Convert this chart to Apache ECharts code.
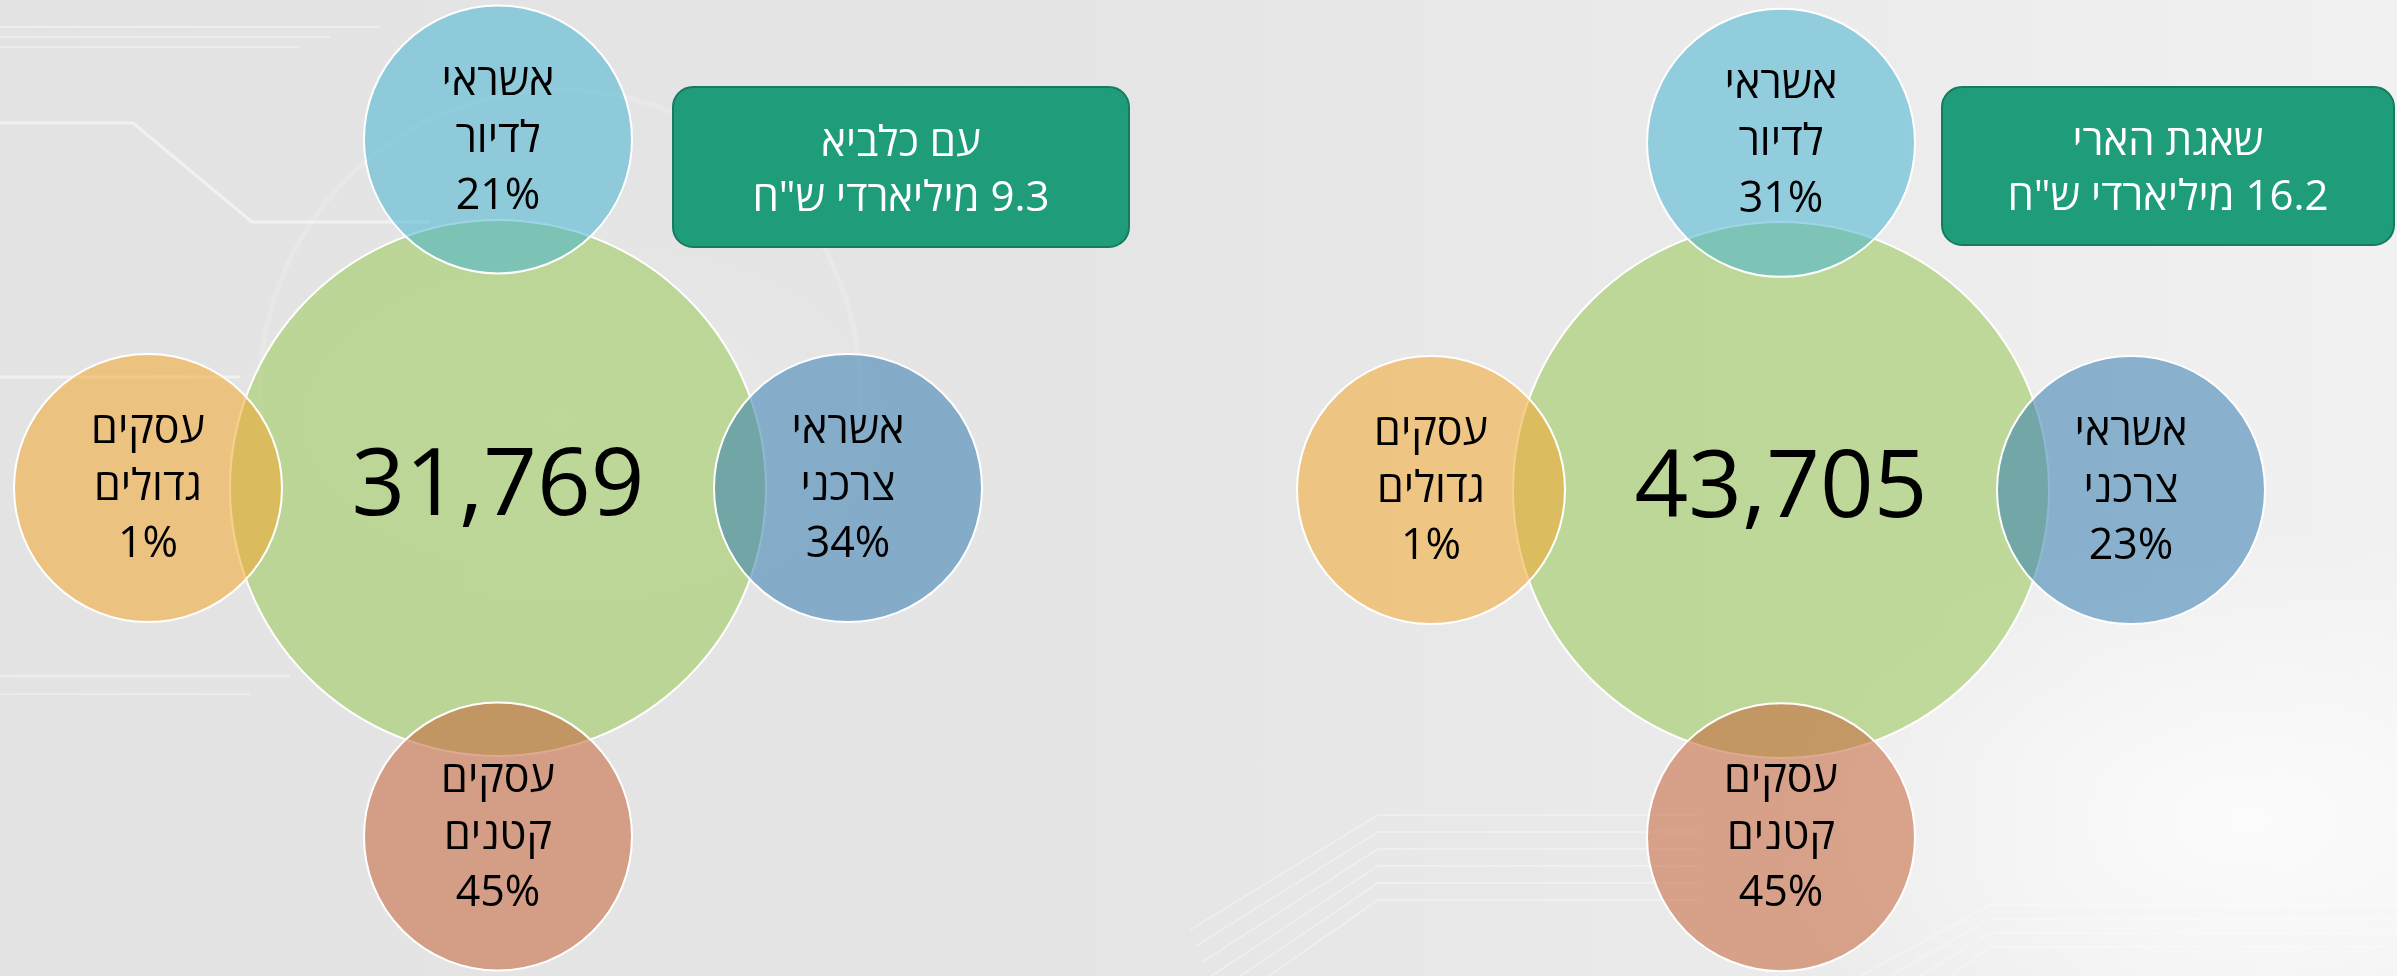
<!DOCTYPE html>
<html lang="he">
<head>
<meta charset="utf-8">
<title>התפלגות האשראי - עם כלביא / שאגת הארי</title>
<script src="https://cdn.jsdelivr.net/npm/echarts@6/dist/echarts.min.js"></script>
<style>
    html, body {
        margin: 0;
        padding: 0;
        width: 2397px;
        height: 976px;
        overflow: hidden;
    }
    body {
        background:
            radial-gradient(ellipse 700px 420px at 2250px 820px, rgba(255,255,255,0.8), rgba(255,255,255,0) 70%),
            radial-gradient(ellipse 500px 300px at 560px 420px, rgba(255,255,255,0.25), rgba(255,255,255,0) 70%),
            linear-gradient(to right, #e3e3e3 0%, #e5e5e5 45%, #eaeaea 70%, #f1f1f1 100%);
    }
    #main {
        width: 2397px;
        height: 976px;
    }
    /* טקסט עברי - כיוון מימין לשמאל */
    #main canvas {
        direction: rtl;
    }
</style>
</head>
<body>
<div id="main"></div>
<script>
// נתונים
const scenarioNames = ['עם כלביא', 'שאגת הארי'];
const amountsBn = [9.3, 16.2];
const totalLoans = [31769, 43705];
const segmentNames = ['אשראי\nלדיור', 'אשראי\nצרכני', 'עסקים\nקטנים', 'עסקים\nגדולים'];
const sharesKalavi = [21, 34, 45, 1];
const sharesShaagat = [31, 23, 45, 1];

// צבעים (שקיפות כמו במקור)
const centerColor = 'rgba(166,206,112,0.68)';
const segmentColors = [
    'rgba(72,181,210,0.55)',   // אשראי לדיור
    'rgba(53,123,177,0.55)',   // אשראי צרכני
    'rgba(199,99,57,0.55)',    // עסקים קטנים
    'rgba(244,168,50,0.55)'    // עסקים גדולים
];
const FONT = '"Open Sans", "Liberation Sans", "DejaVu Sans", sans-serif';

// פריסה של שני הלוחות
const panels = [
    { shares: sharesKalavi, grid: { left: 8, top: 0, width: 980, height: 978 },
      box: { x: 673, y: 87, width: 456, height: 160 } },
    { shares: sharesShaagat, grid: { left: 1291, top: 4, width: 980, height: 978 },
      box: { x: 1942, y: 87, width: 452, height: 158 } }
];

const chart = echarts.init(document.getElementById('main'), null, { renderer: 'canvas' });

const grids = [];
const xAxes = [];
const yAxes = [];
const series = [];

panels.forEach(function (panel, p) {
    grids.push(panel.grid);
    xAxes.push({ type: 'value', gridIndex: p, min: -1.4, max: 1.4, show: false });
    yAxes.push({ type: 'value', gridIndex: p, min: -1.4, max: 1.4, show: false });

    // עיגול מרכזי - סך הכל
    series.push({
        type: 'scatter',
        xAxisIndex: p,
        yAxisIndex: p,
        symbol: 'circle',
        symbolSize: 536,
        silent: true,
        z: 2,
        itemStyle: { color: centerColor, borderColor: '#ffffff', borderWidth: 2, opacity: 1 },
        label: {
            show: true,
            position: 'inside',
            color: '#000',
            fontFamily: FONT,
            fontSize: 94,
            formatter: function (params) {
                return params.data.total.toLocaleString('en-US');
            }
        },
        data: [{ value: [0, 0], total: totalLoans[p] }]
    });

    // עיגולים מסביב - פילוח לפי סוג אשראי (למעלה, ימין, למטה, שמאל)
    const satellites = segmentNames.map(function (name, i) {
        const angle = Math.PI / 2 - i * Math.PI / 2;
        return {
            name: name,
            value: [Math.round(Math.cos(angle)), Math.round(Math.sin(angle))],
            share: panel.shares[i],
            itemStyle: { color: segmentColors[i] }
        };
    });

    series.push({
        type: 'scatter',
        xAxisIndex: p,
        yAxisIndex: p,
        symbol: 'circle',
        symbolSize: 268,
        silent: true,
        z: 3,
        itemStyle: { borderColor: '#ffffff', borderWidth: 2, opacity: 1 },
        label: {
            show: true,
            position: 'inside',
            color: '#000',
            fontFamily: FONT,
            fontSize: 43,
            lineHeight: 57,
            formatter: function (params) {
                return params.data.name + '\n' + params.data.share + '%';
            }
        },
        data: satellites
    });
});

// קווי רקע דקורטיביים
const decoLine = function (points, width, alpha) {
    return {
        type: 'polyline',
        silent: true,
        z: 0,
        shape: { points: points },
        style: { stroke: 'rgba(255,255,255,' + alpha + ')', lineWidth: width, fill: null }
    };
};
const decorations = [
    decoLine([[0, 27], [380, 27]], 2, 0.4),
    decoLine([[0, 37], [330, 37]], 2, 0.35),
    decoLine([[0, 47], [300, 47]], 2, 0.3),
    decoLine([[0, 123], [133, 123], [252, 222], [430, 222]], 3, 0.5),
    decoLine([[0, 377], [240, 377]], 3, 0.5),
    decoLine([[0, 676], [290, 676]], 3, 0.35),
    decoLine([[0, 694], [250, 694]], 2, 0.3),
    {
        type: 'arc',
        silent: true,
        z: 0,
        shape: { cx: 560, cy: 390, r: 300, startAngle: Math.PI * 0.95, endAngle: Math.PI * 2.05 },
        style: { stroke: 'rgba(255,255,255,0.16)', lineWidth: 5, fill: null }
    }
];
for (let k = 0; k < 6; k++) {
    decorations.push(decoLine([[1190 + k * 6, 930 + k * 16], [1378, 815 + k * 17], [1700, 815 + k * 17]], 2, 0.32));
}
for (let k = 0; k < 4; k++) {
    decorations.push(decoLine([[1860 + k * 30, 976], [1990, 905 + k * 14], [2397, 905 + k * 14]], 2, 0.25));
}

// תיבות כותרת ירוקות
const boxes = panels.map(function (panel, p) {
    const b = panel.box;
    return {
        type: 'group',
        z: 100,
        children: [
            {
                type: 'rect',
                shape: { x: b.x, y: b.y, width: b.width, height: b.height, r: 20 },
                style: { fill: '#1f9c79', stroke: '#187a5e', lineWidth: 2 }
            },
            {
                type: 'text',
                style: {
                    x: b.x + b.width / 2,
                    y: b.y + b.height / 2 + 5,
                    text: scenarioNames[p] + '\n' + amountsBn[p] + ' מיליארדי ש"ח',
                    align: 'center',
                    verticalAlign: 'middle',
                    fill: '#ffffff',
                    fontFamily: FONT,
                    fontSize: 42,
                    lineHeight: 55
                }
            }
        ]
    };
});

const option = {
    backgroundColor: 'transparent',
    animation: false,
    grid: grids,
    xAxis: xAxes,
    yAxis: yAxes,
    series: series,
    graphic: decorations.concat(boxes)
};

chart.setOption(option);
</script>
</body>
</html>
